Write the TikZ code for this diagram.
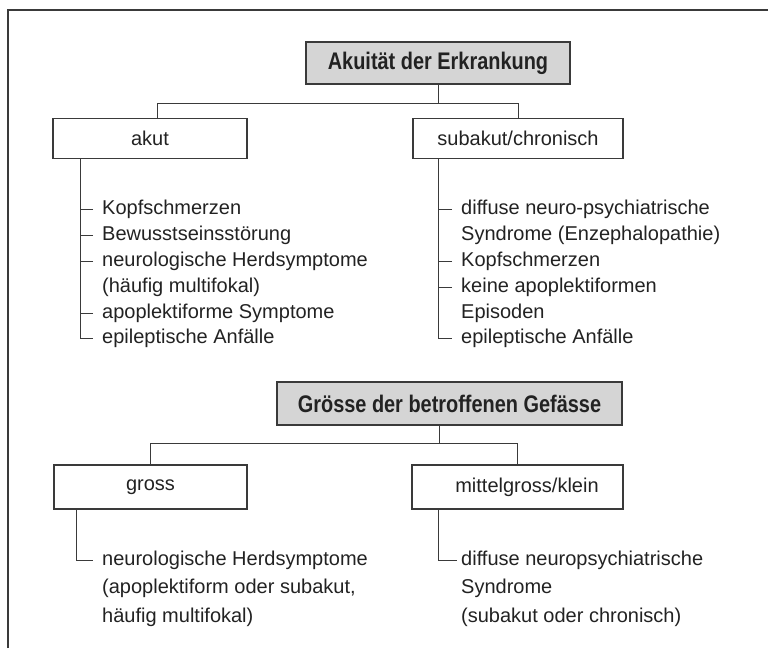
\documentclass[tikz,border=0pt]{standalone}
\usepackage{fontspec}
\usepackage{xcolor}
\setmainfont{Liberation Sans}
\newfontfamily\headfont[FakeStretch=0.83]{Liberation Sans}
\newcommand{\up}{\rule{0pt}{18pt}}
\definecolor{boxgray}{HTML}{D5D5D5}
\definecolor{linegray}{HTML}{3A3A3A}
\definecolor{inkgray}{HTML}{222222}

\begin{document}
\begin{tikzpicture}[x=1pt, y=-1pt,
    every node/.style={text=inkgray},
    head/.style={draw=linegray, fill=boxgray, line width=1.1pt, minimum height=42pt, inner sep=0pt, font=\headfont\bfseries\fontsize{24}{28}\selectfont},
    box/.style={draw=linegray, line width=1.1pt, minimum height=40pt, inner sep=0pt, font=\fontsize{20}{24}\selectfont},
    item/.style={anchor=north west, inner xsep=9pt, inner ysep=0pt, align=left, font=\fontsize{20}{25.8}\selectfont},
    wire/.style={draw=linegray, line width=0.9pt}]
    \useasboundingbox (0,0) rectangle (768,648);
    \draw [line width=1.2pt, draw=linegray] (8,648) |- (768,10);

    \node [head, minimum width=264pt] (a) at (438,63) {Akuität der Erkrankung};
    \node [box, minimum width=194pt] (b) at (150,138.5) {akut};
    \node [box, minimum width=210pt] (c) at (518,138.5) {subakut/chronisch};
    \node [item] (d) at (93,196) {\up Kopfschmerzen};
    \node [item] (e) at (93,222) {\up Bewusstseinsstörung};
    \node [item] (f) at (93,248) {\up neurologische Herdsymptome\\(häufig multifokal)};
    \node [item] (g) at (93,300) {\up apoplektiforme Symptome};
    \node [item] (h) at (93,325) {\up epileptische Anfälle};
    \node [item] (i) at (452,196) {\up diffuse neuro-psychiatrische\\Syndrome (Enzephalopathie)};
    \node [item] (j) at (452,248) {\up Kopfschmerzen};
    \node [item] (k) at (452,274) {\up keine apoplektiformen\\Episoden};
    \node [item] (l) at (452,325) {\up epileptische Anfälle};

    \node [head, minimum width=345pt, minimum height=43pt] (m) at (449.5,403.5) {Grösse der betroffenen Gefässe};
    \node [box, minimum width=193pt, minimum height=44pt] (n) at (150.5,487) {gross};
    \node [box, minimum width=211pt, minimum height=44pt] (o) at (517.5,487) {\hspace*{19pt}mittelgross/klein};
    \node [item, font=\fontsize{20}{28.5}\selectfont] (p) at (93,547) {\up neurologische Herdsymptome\\(apoplektiform oder subakut,\\häufig multifokal)};
    \node [item, inner xsep=4pt, font=\fontsize{20}{28.5}\selectfont] (q) at (457,547) {\up diffuse neuropsychiatrische\\Syndrome\\(subakut oder chronisch)};

    \draw [wire] (a.south) -- ++(0,19) -| (c.north);
    \draw [wire] (a.south) ++(0,19) -| ([xshift=7pt]b.north);
    \draw [wire] ([xshift=28pt]b.south west) |- ([yshift=-13pt]h.north west);
    \foreach \n in {d,e,f,g} \draw [wire] ([yshift=-13pt]\n.north west) -- +(-12,0);
    \draw [wire] ([xshift=26pt]c.south west) |- ([yshift=-13pt]l.north west);
    \foreach \n in {i,j,k} \draw [wire] ([yshift=-13pt]\n.north west) -- +(-13,0);

    \draw [wire] ([xshift=-10.5pt]m.south) -- ++(0,18) -| (o.north);
    \draw [wire] ([xshift=-10.5pt]m.south) ++(0,18) -| (n.north);
    \draw [wire] ([xshift=22.5pt]n.south west) |- ([yshift=-13pt]p.north west);
    \draw [wire] ([xshift=27pt]o.south west) |- ([yshift=-13pt]q.north west);

\end{tikzpicture}
\end{document}
